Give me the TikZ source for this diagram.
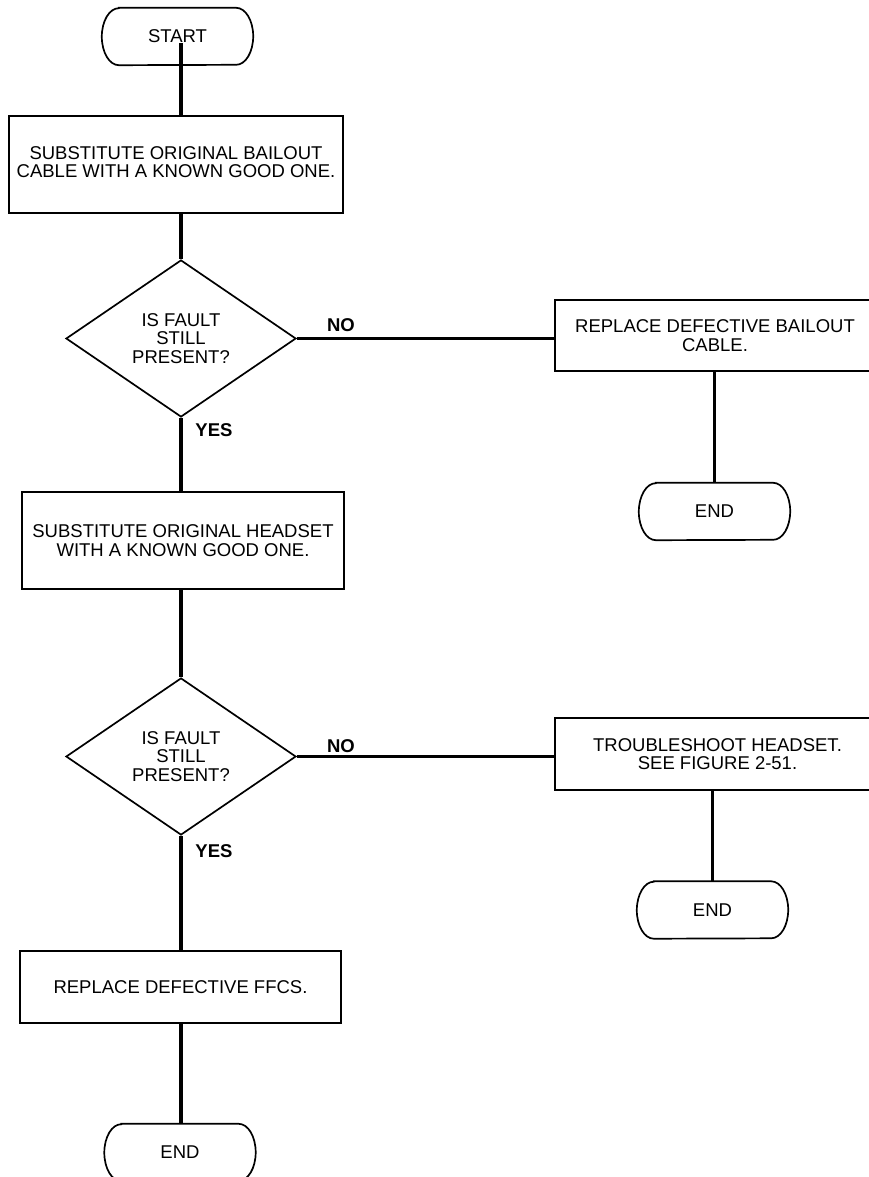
\documentclass[tikz,border=0pt]{standalone}
\usepackage{fontspec}
\setmainfont{Liberation Sans}
\usetikzlibrary{shapes.geometric}
\newcommand{\fs}{\fontsize{18.5}{18.3}\selectfont}
\newcommand{\termoutline}[1]{%
  \draw[line width=1.7pt]
    ([xshift=17pt]#1.north west) -- ([xshift=-17pt]#1.north east)
    arc[start angle=90, end angle=-90, x radius=17pt, y radius=28.5pt]
    -- ([xshift=17pt]#1.south west)
    arc[start angle=270, end angle=90, x radius=17pt, y radius=28.5pt] -- cycle;}
\tikzset{
  shp/.style={draw, line width=1.7pt, inner sep=0pt, align=center, font=\fs},
  procbox/.style={shp, rectangle},
  term/.style={rectangle, inner sep=0pt, font=\fs,
               minimum width=151pt, minimum height=57pt},
  dec/.style={shp, diamond, minimum width=230pt, minimum height=157pt},
  conn/.style={line width=3.2pt},
  lab/.style={font=\fs\bfseries, inner sep=0pt}
}
\begin{document}
\begin{tikzpicture}[x=1pt,y=-1pt]
\useasboundingbox (0,0) rectangle (869,1177);
\clip (0,0) rectangle (869,1177);
\coordinate (spine) at (181,0);
% left column
\node[term] (start) at (177.5,36.5) {START};
\node[procbox, minimum width=334pt, minimum height=97pt] (box1) at (176,164.5)
  {\raisebox{-6pt}{\begin{tabular}{@{}c@{}}SUBSTITUTE ORIGINAL BAILOUT\\[-0.2pt]CABLE WITH A KNOWN GOOD ONE.\end{tabular}}};
\node[dec] (dec1) at (181,338.5) {IS FAULT\\STILL\\PRESENT?};
\node[procbox, minimum width=322pt, minimum height=97pt] (box3) at (183,540.5)
  {SUBSTITUTE ORIGINAL HEADSET\\WITH A KNOWN GOOD ONE.};
\node[dec] (dec2) at (181,756.5) {IS FAULT\\STILL\\PRESENT?};
\node[procbox, minimum width=321pt, minimum height=72pt] (box5) at (180.5,987)
  {REPLACE DEFECTIVE FFCS.};
\node[term] (end3) at (180,1152.5) {END};
% right column
\node[procbox, minimum width=320pt, minimum height=71pt] (box2) at (715,335.5)
  {REPLACE DEFECTIVE BAILOUT\\CABLE.};
\node[term] (end1) at (714.5,511.5) {END};
\node[procbox, minimum width=325pt, minimum height=72pt] (box4) at (717.5,754)
  {TROUBLESHOOT HEADSET.\\SEE FIGURE 2-51.};
\node[term] (end2) at (712.5,910) {END};
% terminal outlines
\termoutline{start}
\termoutline{end1}
\termoutline{end2}
\termoutline{end3}
% labels
\node[lab] (no1) at (341,325) {NO};
\node[lab] (yes1) at (214,430) {YES};
\node[lab] (no2) at (341,746) {NO};
\node[lab] (yes2) at (214,851) {YES};
% connectors
\draw[conn] ([yshift=-7pt]start.center -| spine) -- (box1.north -| spine);
\draw[conn] (box1.south -| spine) -- (dec1.north);
\draw[conn] (dec1.south) -- (box3.north -| dec1.south);
\draw[conn] (box3.south -| dec2.north) -- (dec2.north);
\draw[conn] (dec2.south) -- (box5.north -| dec2.south);
\draw[conn] (box5.south -| dec2.south) -- (end3.north -| dec2.south);
\draw[conn] (dec1.east) -- (dec1.east -| box2.west);
\draw[conn] (box2.south -| end1.north) -- (end1.north);
\draw[conn] (dec2.east) -- (dec2.east -| box4.west);
\draw[conn] (box4.south -| end2.north) -- (end2.north);
\end{tikzpicture}
\end{document}
